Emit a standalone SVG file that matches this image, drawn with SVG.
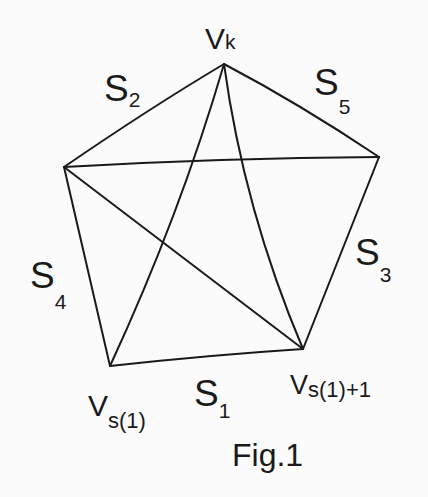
<svg xmlns="http://www.w3.org/2000/svg" width="428" height="497" viewBox="0 0 428 497">
<style>
.e{fill:none;stroke:#1a1a1a;stroke-width:2;stroke-linecap:round}
.t{font-family:"Liberation Sans",Arial,sans-serif;fill:#1a1a1a}
.big{font-size:37px}
.sub{font-size:21px}
</style>
<rect width="428" height="497" fill="#fbfbfb"/>
<g id="connectors">
<path class="e" d="M224 64 Q150 108 64 167"/>
<path class="e" d="M224 64 Q300 104 379 157"/>
<path class="e" d="M64 167 Q220 158 379 157"/>
<path class="e" d="M379 157 L303 349"/>
<path class="e" d="M303 349 Q210 355 110 366"/>
<path class="e" d="M110 366 L64 167"/>
<path class="e" d="M64 167 L303 349"/>
<path class="e" d="M224 64 Q180 215 110 366"/>
<path class="e" d="M224 64 Q244 210 303 349"/>
</g>
<g id="v_k"><text class="t" x="205" y="49" font-size="30">V<tspan font-size="21">k</tspan></text></g>
<g id="v_s1"><text class="t" x="88" y="416" font-size="30">V<tspan font-size="22" dy="12">s(1)</tspan></text></g>
<g id="v_s1p1"><text class="t" x="290" y="394" font-size="27">V<tspan font-size="22" dy="3">s(1)+1</tspan></text></g>
<g id="s2"><text class="t big" x="104" y="101">S<tspan class="sub" dy="6">2</tspan></text></g>
<g id="s5"><text class="t big" x="314" y="95">S<tspan class="sub" dy="19">5</tspan></text></g>
<g id="s3"><text class="t big" x="355" y="265">S<tspan class="sub" dy="17">3</tspan></text></g>
<g id="s4"><text class="t big" x="30" y="288">S<tspan class="sub" dy="21">4</tspan></text></g>
<g id="s1"><text class="t big" x="194" y="406">S<tspan class="sub" dy="12">1</tspan></text></g>
<g id="caption"><text class="t" x="232" y="466" font-size="32">Fig.1</text></g>
</svg>
